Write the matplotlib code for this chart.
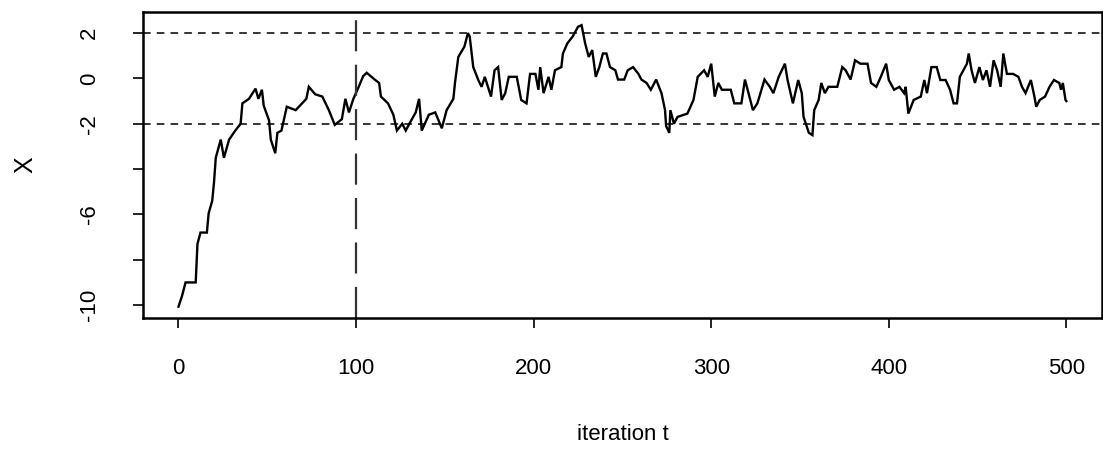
import numpy as np
import matplotlib
matplotlib.use("Agg")
import matplotlib.pyplot as plt

plt.rcParams['font.family'] = ['Liberation Sans', 'DejaVu Sans']

# sampled trace of the chain (iteration, value)
iters = [0, 2, 4, 9.7, 10.7, 12.4, 16, 17, 19, 20, 21, 23.8, 25.6, 28.5, 32, 35, 36,
         39.7, 43.4, 45, 47, 48, 51, 52, 54.5, 55.7, 58, 61, 66, 72, 73.4, 77, 81,
         84.7, 88, 92, 94, 96, 98.5, 101.5, 104, 106, 110.5, 113, 114, 118, 121, 123,
         126, 128, 130, 133.6, 135.5, 137, 141, 144.6, 148.3, 151, 154.8, 155.7,
         157.6, 161, 163, 164, 166, 169, 170.7, 172.5, 176, 178, 180, 182, 184, 186,
         190.5, 193, 196, 198, 201, 202.7, 203.7, 205.6, 208.4, 210, 212, 215.6,
         216.5, 219, 222, 225, 227, 229, 231, 233, 235, 237, 239, 241, 243, 246,
         247.5, 251, 253, 256, 259, 260.7, 263.6, 266, 269, 272, 274, 274.6, 276.4,
         277, 279, 281, 286.6, 290, 292.4, 296, 298, 300, 302, 304, 306, 311, 313,
         317, 319, 321, 323.5, 326, 330, 333, 335, 338, 341.5, 343, 346, 349, 351,
         352, 355, 357, 358, 360.5, 362, 364, 366, 371, 373.8, 375.7, 378.5, 381,
         384, 388, 390, 393, 395.5, 398.5, 400, 403, 406, 408.6, 409.5, 411, 414,
         418, 420, 421.5, 424, 427, 429, 432, 434.5, 436.5, 438.4, 440, 442, 444,
         445, 446.6, 448.5, 451, 453, 455, 457, 459, 461, 463, 464.5, 466.5, 470,
         473, 475, 477, 480, 482, 483, 485, 488, 490.5, 493, 496, 497, 498, 499.5, 500]
xvals = [-10.07, -9.6, -9.0, -9.0, -7.3, -6.8, -6.8, -5.95, -5.4, -4.6, -3.5, -2.7,
         -3.5, -2.7, -2.3, -2.0, -1.1, -0.9, -0.45, -0.9, -0.5, -1.2, -1.85, -2.7,
         -3.3, -2.4, -2.3, -1.25, -1.4, -0.9, -0.37, -0.7, -0.8, -1.4, -2.05, -1.8,
         -0.9, -1.5, -0.9, -0.37, 0.1, 0.25, -0.05, -0.2, -0.8, -1.1, -1.6, -2.3,
         -2.0, -2.3, -2.0, -1.5, -0.9, -2.3, -1.6, -1.5, -2.2, -1.4, -0.9, -0.2,
         0.95, 1.4, 2.0, 1.85, 0.5, -0.1, -0.37, 0.07, -0.8, 0.36, 0.5, -0.95,
         -0.65, 0.07, 0.07, -0.95, -1.1, 0.2, 0.2, -0.5, 0.5, -0.65, 0.07, -0.5,
         0.36, 0.5, 1.1, 1.55, 1.85, 2.28, 2.35, 1.55, 0.95, 1.25, 0.07, 0.5, 1.1,
         1.1, 0.5, 0.36, -0.05, -0.05, 0.36, 0.5, 0.2, -0.05, -0.2, -0.5, -0.05,
         -0.65, -1.4, -2.1, -2.4, -1.4, -2.0, -1.7, -1.55, -0.95, 0.07, 0.36, 0.07,
         0.65, -0.8, -0.2, -0.5, -0.5, -1.1, -1.1, -0.05, -0.65, -1.4, -1.1, -0.05,
         -0.37, -0.65, 0.07, 0.65, -0.07, -1.1, -0.07, -0.65, -1.7, -2.4, -2.5,
         -1.4, -0.95, -0.2, -0.65, -0.37, -0.37, 0.5, 0.36, -0.05, 0.8, 0.65, 0.65,
         -0.2, -0.37, 0.07, 0.65, -0.07, -0.5, -0.37, -0.65, -0.37, -1.55, -0.95,
         -0.8, -0.07, -0.65, 0.5, 0.5, -0.07, -0.07, -0.5, -1.1, -1.1, 0.07, 0.36,
         0.65, 1.1, 0.36, -0.2, 0.5, -0.07, 0.36, -0.37, 0.8, 0.36, -0.37, 1.1, 0.2,
         0.2, 0.07, -0.37, -0.65, -0.07, -0.8, -1.25, -0.95, -0.8, -0.37, -0.07,
         -0.2, -0.5, -0.2, -0.95, -1.0]

burn_in = 100
bounds = [-2, 2]
xticks = [0, 100, 200, 300, 400, 500]
yticks = [2, 0, -2, -4, -6, -8, -10]
ytick_labels = ['2', '0', '-2', '', '-6', '', '-10']

fig = plt.figure(figsize=(11.03, 4.5), dpi=100)
ax = fig.add_axes([0.1296, 0.2933, 0.8694, 0.68])

ax.plot(iters, xvals, color='black', lw=1.7, solid_joinstyle='miter')
for b in bounds:
    ax.axhline(b, color='black', lw=1.1, linestyle=(0, (5, 4)))
ax.axvline(burn_in, color='#333333', lw=1.6, linestyle=(0, (14, 6)))

ax.set_xlim(-20, 520)
ax.set_ylim(-10.57, 2.93)
ax.set_xticks(xticks)
ax.set_yticks(yticks)
ax.set_yticklabels(ytick_labels, rotation=90, va='center')
ax.tick_params(direction='out', length=7, width=1.2, labelsize=16)
ax.tick_params(axis='x', pad=22)
ax.tick_params(axis='y', pad=24)
for s in ax.spines.values():
    s.set_linewidth(1.8)

ax.set_xlabel('iteration t', fontsize=16, labelpad=32)
ax.set_ylabel('X', fontsize=18, labelpad=30, rotation=90)

fig.savefig('out.png', dpi=100)
